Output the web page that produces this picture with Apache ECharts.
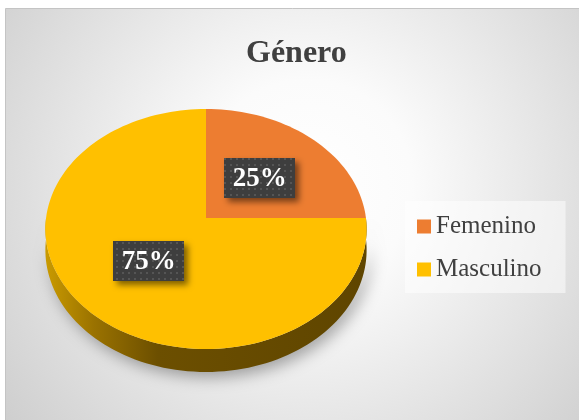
<!DOCTYPE html>
<html>
<head>
<meta charset="utf-8">
<script src="https://cdn.jsdelivr.net/npm/echarts@6/dist/echarts.min.js"></script>
<style>
  html, body { margin: 0; padding: 0; background: #fff; }
  #chart { width: 579px; height: 420px; }
</style>
</head>
<body>
<div id="chart"></div>
<script>
const categories = ['Femenino', 'Masculino'];
const values = [25, 75];
const colors = ['#ED7D31', '#FFC000'];

// perspective of the tilted pie
const CX = 206, CY = 218;
const KX = 1745, KY = 1298, DIST = 10.91, DEPTH = 23;
const total = values.reduce((s, v) => s + v, 0);

function proj(theta, r) {
  const u = r * Math.sin(theta);
  const v = -r * Math.cos(theta);
  return [CX + KX * u / (DIST - v), CY + KY * v / (DIST - v)];
}

function arc(a, b, r) {
  const pts = [];
  const n = Math.max(2, Math.ceil((b - a) / (Math.PI / 90)));
  for (let k = 0; k <= n; k++) {
    pts.push(proj(a + (b - a) * k / n, r));
  }
  return pts;
}

// dotted fill of the label boxes
const dots = document.createElement('canvas');
dots.width = 6;
dots.height = 6;
const dctx = dots.getContext('2d');
dctx.fillStyle = '#3e3e3e';
dctx.fillRect(0, 0, 6, 6);
dctx.fillStyle = '#555555';
dctx.fillRect(2, 2, 2, 2);

const sideFill = {
  type: 'linear', x: 46, y: 0, x2: 366, y2: 0, global: true,
  colorStops: [
    { offset: 0, color: '#c99a00' },
    { offset: 0.15, color: '#9a7200' },
    { offset: 0.35, color: '#6c4f00' },
    { offset: 1, color: '#5f4500' },
  ],
};

function makeRender(i) {
  return function (params, api) {
    let before = 0;
    for (let k = 0; k < i; k++) before += values[k];
    const a = before / total * Math.PI * 2;
    const b = (before + values[i]) / total * Math.PI * 2;
    const children = [];

    children.push({
      type: 'polygon',
      shape: { points: [proj(0, 0)].concat(arc(a, b, 1)) },
      style: { fill: api.visual('color') },
      z2: 10,
    });

    // front rim
    const s = Math.max(a, Math.PI / 2);
    const e = Math.min(b, Math.PI * 1.5);
    if (e > s) {
      const top = arc(s, e, 1);
      const bottom = top.map((p, k) => {
        const th = s + (e - s) * k / (top.length - 1);
        const v = -Math.cos(th);
        return [p[0], p[1] + DEPTH * (DIST - 1) / (DIST - v)];
      }).reverse();
      children.push({
        type: 'polygon',
        shape: { points: top.concat(bottom) },
        style: {
          fill: sideFill,
          shadowBlur: 16,
          shadowOffsetX: 4,
          shadowOffsetY: 5,
          shadowColor: 'rgba(0,0,0,0.35)',
        },
        z2: 1,
      });
    }

    const mid = (a + b) / 2;
    const lp = proj(mid, 0.49);
    children.push({
      type: 'rect',
      shape: { x: Math.round(lp[0] - 35.5), y: Math.round(lp[1] - 20), width: 71, height: 40 },
      style: {
        fill: { image: dots, repeat: 'repeat' },
        shadowBlur: 6,
        shadowOffsetX: 4,
        shadowOffsetY: 4,
        shadowColor: 'rgba(0,0,0,0.5)',
      },
      z2: 20,
    });
    children.push({
      type: 'text',
      style: {
        text: Math.round(values[i] / total * 100) + '%',
        x: lp[0],
        y: lp[1] + 1,
        align: 'center',
        verticalAlign: 'middle',
        fill: '#ffffff',
        font: 'bold 27px "Liberation Serif"',
      },
      z2: 21,
    });

    return { type: 'group', children: children };
  };
}

const myChart = echarts.init(document.getElementById('chart'));

const option = {
  animation: false,
  backgroundColor: '#ffffff',
  graphic: [{
    type: 'rect',
    z: -10,
    shape: { x: 5.5, y: 8.5, width: 580, height: 420 },
    style: {
      fill: new echarts.graphic.RadialGradient(0.52, 0.42, 1.0, [
        { offset: 0, color: '#ffffff' },
        { offset: 0.25, color: '#fbfbfb' },
        { offset: 1, color: '#c8c8c8' },
      ]),
      stroke: '#c4c4c4',
      lineWidth: 1,
    },
  }],
  title: {
    text: 'Género',
    left: 241,
    top: 33,
    textStyle: {
      fontFamily: 'Liberation Serif',
      fontWeight: 'bold',
      fontSize: 32,
      color: '#404040',
    },
  },
  legend: {
    orient: 'vertical',
    left: 405,
    top: 201,
    padding: [13, 24, 11, 12],
    itemGap: 18,
    itemWidth: 14,
    itemHeight: 14,
    icon: 'rect',
    backgroundColor: 'rgba(255,255,255,0.5)',
    selectedMode: false,
    data: categories,
    textStyle: {
      fontFamily: 'Liberation Serif',
      fontSize: 25,
      color: '#404040',
    },
  },
  series: categories.map((name, i) => ({
    type: 'custom',
    name: name,
    coordinateSystem: 'none',
    itemStyle: { color: colors[i] },
    data: [values[i]],
    renderItem: makeRender(i),
  })),
};

myChart.setOption(option);
</script>
</body>
</html>
